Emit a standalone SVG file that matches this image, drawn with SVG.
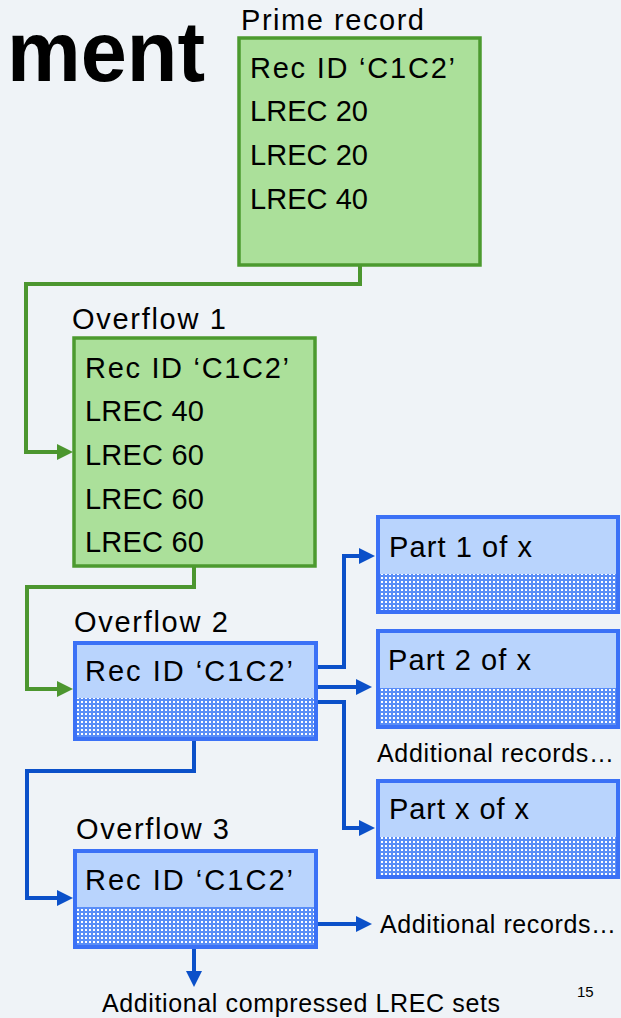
<svg xmlns="http://www.w3.org/2000/svg" width="621" height="1018" viewBox="0 0 621 1018">
<style>
.t{font-family:"Liberation Sans",Arial,sans-serif;font-size:29px;fill:#000}
.s{font-family:"Liberation Sans",Arial,sans-serif;font-size:25px;fill:#000}
.gbox{fill:#abe09a;stroke:#4c9a2f;stroke-width:3.5}
.bfill{fill:#b9d4fd}
.bedge{fill:none;stroke:#3b71f6;stroke-width:4}
.gc{fill:none;stroke:#4c962f;stroke-width:4;stroke-linejoin:miter}
.bc{fill:none;stroke:#0b50c9;stroke-width:4;stroke-linejoin:miter}
</style>
<defs>
<pattern id="dots" width="4" height="4" patternUnits="userSpaceOnUse">
<rect width="4" height="4" fill="#5a8ef7"/>
<rect x="1" y="1" width="2" height="2" fill="#ffffff"/>
</pattern>
<marker id="ag" markerUnits="userSpaceOnUse" viewBox="0 0 16 16" markerWidth="16" markerHeight="16" refX="8" refY="8" orient="auto">
<path d="M0,0 L16,8 L0,16 z" fill="#4c962f"/>
</marker>
<marker id="ab" markerUnits="userSpaceOnUse" viewBox="0 0 16 16" markerWidth="16" markerHeight="16" refX="8" refY="8" orient="auto">
<path d="M0,0 L16,8 L0,16 z" fill="#0b50c9"/>
</marker>
</defs>
<rect width="621" height="1018" fill="#eff3f7"/>
<text x="7" y="81" font-family="'Liberation Sans',Arial,sans-serif" font-weight="bold" font-size="86" textLength="198" lengthAdjust="spacingAndGlyphs">ment</text>

<g id="connectors">
<path class="gc" d="M360,266 V284 H26 V452 H65" marker-end="url(#ag)"/>
<path class="gc" d="M194,567 V587 H27 V689 H65" marker-end="url(#ag)"/>
<path class="bc" d="M318,667 H344 V556 H367" marker-end="url(#ab)"/>
<path class="bc" d="M318,687 H364" marker-end="url(#ab)"/>
<path class="bc" d="M318,702 H344 V828 H367" marker-end="url(#ab)"/>
<path class="bc" d="M194,740 V771 H27 V898 H65" marker-end="url(#ab)"/>
<path class="bc" d="M318,924 H364" marker-end="url(#ab)"/>
<path class="bc" d="M194,949 V979" marker-end="url(#ab)"/>
</g>

<g id="prime">
<text class="t" x="241" y="30" textLength="183">Prime record</text>
<rect class="gbox" x="239" y="38" width="241" height="227"/>
<text class="t" x="250" y="78" textLength="205">Rec ID ‘C1C2’</text>
<text class="t" x="250" y="121" textLength="118">LREC 20</text>
<text class="t" x="250" y="165" textLength="118">LREC 20</text>
<text class="t" x="250" y="209" textLength="118">LREC 40</text>
</g>

<g id="overflow1">
<text class="t" x="72" y="329" textLength="154">Overflow 1</text>
<rect class="gbox" x="74" y="338" width="241" height="228"/>
<text class="t" x="85" y="378" textLength="204">Rec ID ‘C1C2’</text>
<text class="t" x="85" y="421" textLength="119">LREC 40</text>
<text class="t" x="85" y="465" textLength="119">LREC 60</text>
<text class="t" x="85" y="509" textLength="119">LREC 60</text>
<text class="t" x="85" y="552" textLength="119">LREC 60</text>
</g>

<g id="overflow2">
<text class="t" x="74" y="632" textLength="154">Overflow 2</text>
<rect class="bfill" x="75" y="643" width="240" height="55"/>
<rect fill="url(#dots)" x="75" y="698" width="240" height="40"/>
<rect class="bedge" x="75" y="643" width="241" height="96"/>
<text class="t" x="85" y="681" textLength="208">Rec ID ‘C1C2’</text>
</g>

<g id="overflow3">
<text class="t" x="76" y="839" textLength="153">Overflow 3</text>
<rect class="bfill" x="75" y="851" width="240" height="56"/>
<rect fill="url(#dots)" x="75" y="907" width="240" height="40"/>
<rect class="bedge" x="75" y="851" width="241" height="96"/>
<text class="t" x="85" y="890" textLength="208">Rec ID ‘C1C2’</text>
</g>

<g id="part1">
<rect class="bfill" x="378" y="517" width="240" height="57"/>
<rect fill="url(#dots)" x="378" y="574" width="240" height="38"/>
<rect class="bedge" x="378" y="517" width="240" height="95"/>
<text class="t" x="389" y="557" textLength="143">Part 1 of x</text>
</g>

<g id="part2">
<rect class="bfill" x="378" y="631" width="240" height="57"/>
<rect fill="url(#dots)" x="378" y="688" width="240" height="39"/>
<rect class="bedge" x="378" y="631" width="240" height="96"/>
<text class="t" x="388" y="670" textLength="143">Part 2 of x</text>
</g>

<g id="more1">
<text class="s" x="377" y="762" textLength="237">Additional records…</text>
</g>

<g id="partx">
<rect class="bfill" x="378" y="781" width="240" height="56"/>
<rect fill="url(#dots)" x="378" y="837" width="240" height="40"/>
<rect class="bedge" x="378" y="781" width="240" height="96"/>
<text class="t" x="389" y="819" textLength="140">Part x of x</text>
</g>

<g id="more2">
<text class="s" x="380" y="933" textLength="236">Additional records…</text>
</g>

<g id="more3">
<text class="s" x="102" y="1012" textLength="398">Additional compressed LREC sets</text>
</g>

<text x="577" y="997" font-family="'Liberation Sans',Arial,sans-serif" font-size="15">15</text>
</svg>
